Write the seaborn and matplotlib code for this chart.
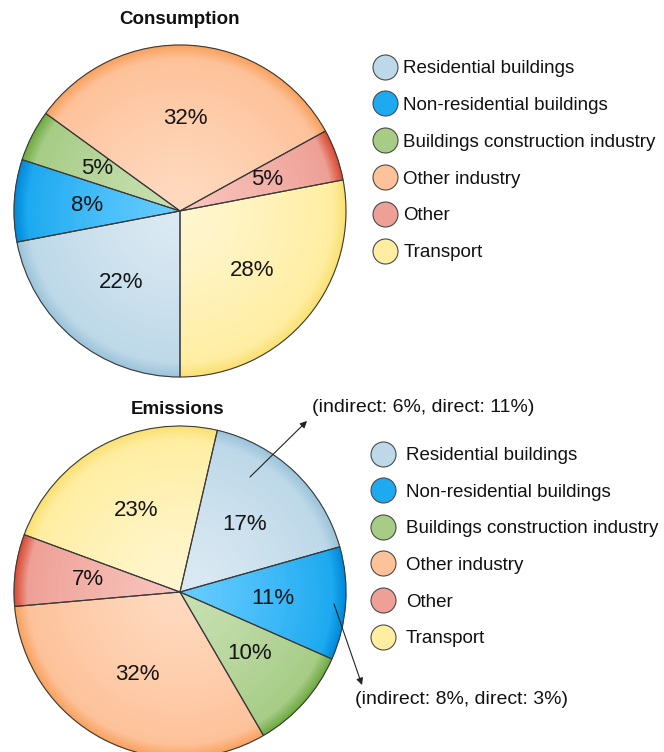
import numpy as np
import matplotlib
matplotlib.use("Agg")
import matplotlib.pyplot as plt
from matplotlib.lines import Line2D
import seaborn as sns

# ---------------- data ----------------
categories = ["Residential buildings", "Non-residential buildings",
              "Buildings construction industry", "Other industry", "Other", "Transport"]
consumption = [22, 8, 5, 32, 5, 28]
emissions = [17, 11, 10, 32, 7, 23]
note_residential = "(indirect: 6%, direct: 11%)"
note_nonresidential = "(indirect: 8%, direct: 3%)"

# colours: (centre, middle, rim)
shades = [
    ("#DCEAF3", "#BDD8E8", "#9CC4DB"),
    ("#66CCFF", "#1EAAF0", "#0088DA"),
    ("#C8E0B2", "#A6CC86", "#6EAA40"),
    ("#FFDAC0", "#FDC29A", "#F9A25E"),
    ("#F8C4BC", "#EEA096", "#D84A32"),
    ("#FFF6D0", "#FFEEA2", "#FAE072"),
]

sns.set_theme(style="white")
plt.rcParams["font.family"] = ["Liberation Sans", "DejaVu Sans"]

W, H = 664, 752
fig = plt.figure(figsize=(W / 100, H / 100), dpi=100)
fig.patch.set_facecolor("white")

R = 166


def pie_axes(cx, cy):
    return fig.add_axes([(cx - R) / W, (H - cy - R) / H, 2 * R / W, 2 * R / H])


def draw_pie(ax, values, startangle):
    n = 60
    inner = [sns.blend_palette([c, m], n_colors=n) for c, m, e in shades]
    outer = [sns.blend_palette([m, e], n_colors=n) for c, m, e in shades]
    radii = np.concatenate([np.linspace(1.0, 0.93, 8), np.linspace(0.92, 0.02, 40)])
    for r in radii:
        if r > 0.925:
            s = (r - 0.92) / 0.08
            idx = int(round(s * (n - 1)))
            cols = [g[idx] for g in outer]
        else:
            s = (r / 0.92) ** 1.3
            idx = int(round(s * (n - 1)))
            cols = [g[idx] for g in inner]
        wedges, _ = ax.pie(values, radius=r, startangle=startangle, counterclock=False,
                           colors=cols, wedgeprops=dict(linewidth=0.6))
        for w in wedges:
            w.set_edgecolor(w.get_facecolor())
    ax.pie(values, radius=1.0, startangle=startangle, counterclock=False,
           colors=["none"] * len(values),
           wedgeprops=dict(edgecolor="#3a3a3a", linewidth=0.8, fill=False),
           autopct=lambda p: f"{p:.0f}%", pctdistance=0.56,
           textprops=dict(fontsize=16, color="#151515"))
    ax.set_xlim(-1, 1)
    ax.set_ylim(-1, 1)
    ax.set_aspect("equal")
    ax.axis("off")


ax1 = pie_axes(180, 211)
draw_pie(ax1, consumption, 270)
ax2 = pie_axes(180, 592)
draw_pie(ax2, emissions, 77)

fig.text(180 / W, 1 - 20 / H, "Consumption", ha="center", va="center",
         fontsize=13.5, fontweight="bold", color="#111111")
fig.text(178 / W, 1 - 410 / H, "Emissions", ha="center", va="center",
         fontsize=13.5, fontweight="bold", color="#111111")


def legend_handles():
    return [Line2D([0], [0], marker="o", linestyle="", markersize=18,
                   markerfacecolor=m, markeredgecolor="#4a4a4a", markeredgewidth=0.8)
            for _, m, _ in shades]


fig.legend(legend_handles(), categories, loc="upper left",
           bbox_to_anchor=(376 / W, 1 - 60 / H), frameon=False, fontsize=13.5,
           labelspacing=1.05, handlelength=1.0, handletextpad=0.45, borderpad=0,
           borderaxespad=0, labelcolor="#111111")
fig.legend(legend_handles(), categories, loc="upper left",
           bbox_to_anchor=(374 / W, 1 - 447 / H), frameon=False, fontsize=13.5,
           labelspacing=1.04, handlelength=1.0, handletextpad=0.7, borderpad=0,
           borderaxespad=0, labelcolor="#111111")

# annotations with arrows
fig.text(312 / W, 1 - 408 / H, note_residential, ha="left", va="center",
         fontsize=14, color="#111111")
fig.text(355 / W, 1 - 700 / H, note_nonresidential, ha="left", va="center",
         fontsize=14, color="#111111")
arrow = dict(arrowstyle="-|>", color="#222222", lw=0.8, mutation_scale=10,
             shrinkA=0, shrinkB=0)
ax2.annotate("", xy=(307, H - 421), xycoords="figure pixels",
             xytext=(250, H - 477), textcoords="figure pixels", arrowprops=arrow)
ax2.annotate("", xy=(362, H - 685), xycoords="figure pixels",
             xytext=(334, H - 604), textcoords="figure pixels", arrowprops=arrow)

fig.savefig("out.png", dpi=100, facecolor="white")
